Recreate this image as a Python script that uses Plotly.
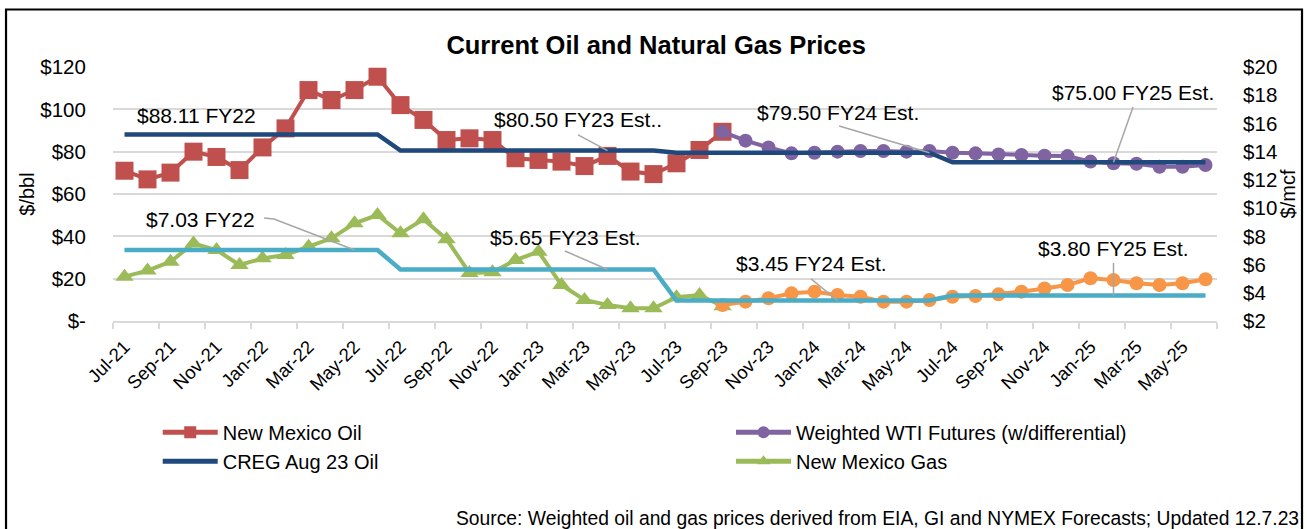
import plotly.graph_objects as go

# Monthly categories, Jul-21 through Jun-25
months = [
    "Jul-21", "Aug-21", "Sep-21", "Oct-21", "Nov-21", "Dec-21",
    "Jan-22", "Feb-22", "Mar-22", "Apr-22", "May-22", "Jun-22",
    "Jul-22", "Aug-22", "Sep-22", "Oct-22", "Nov-22", "Dec-22",
    "Jan-23", "Feb-23", "Mar-23", "Apr-23", "May-23", "Jun-23",
    "Jul-23", "Aug-23", "Sep-23", "Oct-23", "Nov-23", "Dec-23",
    "Jan-24", "Feb-24", "Mar-24", "Apr-24", "May-24", "Jun-24",
    "Jul-24", "Aug-24", "Sep-24", "Oct-24", "Nov-24", "Dec-24",
    "Jan-25", "Feb-25", "Mar-25", "Apr-25", "May-25", "Jun-25",
]

# Actual New Mexico oil price ($/bbl), Jul-21 .. Sep-23
nm_oil = [71.0, 66.9, 70.1, 80.0, 77.5, 71.3, 82.0, 91.0, 109.1, 104.4, 109.1, 115.4,
          102.0, 95.0, 85.5, 86.3, 85.5, 76.9, 76.1, 75.3, 73.2, 78.0, 70.6, 69.4,
          74.5, 80.8, 89.4]

# Weighted WTI futures with differential ($/bbl), Sep-23 .. Jun-25
wti_futures = [89.4, 85.2, 82.0, 79.2, 79.5, 80.0, 80.3, 80.3, 80.0, 80.3, 79.5,
               79.2, 78.7, 78.4, 78.1, 77.9, 75.3, 74.5, 74.3, 72.9, 72.9, 73.7]

# CREG August 2023 oil estimate by fiscal year ($/bbl), Jul-21 .. Jun-25
creg_oil = [88.11, 88.11, 88.11, 88.11, 88.11, 88.11, 88.11, 88.11, 88.11, 88.11, 88.11, 88.11,
            80.50, 80.50, 80.50, 80.50, 80.50, 80.50, 80.50, 80.50, 80.50, 80.50, 80.50, 80.50,
            79.50, 79.50, 79.50, 79.50, 79.50, 79.50, 79.50, 79.50, 79.50, 79.50, 79.50, 79.50,
            75.00, 75.00, 75.00, 75.00, 75.00, 75.00, 75.00, 75.00, 75.00, 75.00, 75.00, 75.00]

# Actual New Mexico gas price ($/mcf), Jul-21 .. Sep-23
nm_gas = [5.14, 5.57, 6.20, 7.50, 7.03, 5.97, 6.44, 6.68, 7.27, 7.86, 8.92, 9.51,
          8.21, 9.21, 7.80, 5.40, 5.45, 6.32, 6.91, 4.55, 3.49, 3.13, 2.90, 2.90,
          3.68, 3.84, 3.05]

# Gas futures ($/mcf), Sep-23 .. Jun-25
gas_futures = [3.13, 3.37, 3.61, 3.96, 4.08, 3.84, 3.72, 3.37, 3.37, 3.49, 3.72,
               3.77, 3.89, 4.08, 4.31, 4.55, 5.03, 4.91, 4.67, 4.55, 4.67, 4.96]

# CREG gas estimate by fiscal year ($/mcf), Jul-21 .. Jun-25
creg_gas = [7.03, 7.03, 7.03, 7.03, 7.03, 7.03, 7.03, 7.03, 7.03, 7.03, 7.03, 7.03,
            5.65, 5.65, 5.65, 5.65, 5.65, 5.65, 5.65, 5.65, 5.65, 5.65, 5.65, 5.65,
            3.45, 3.45, 3.45, 3.45, 3.45, 3.45, 3.45, 3.45, 3.45, 3.45, 3.45, 3.45,
            3.80, 3.80, 3.80, 3.80, 3.80, 3.80, 3.80, 3.80, 3.80, 3.80, 3.80, 3.80]

oil_ticks = [0, 20, 40, 60, 80, 100, 120]
oil_tick_text = ["$-", "$20", "$40", "$60", "$80", "$100", "$120"]
gas_ticks = [2, 4, 6, 8, 10, 12, 14, 16, 18, 20]
gas_tick_text = ["$2", "$4", "$6", "$8", "$10", "$12", "$14", "$16", "$18", "$20"]

FONT = "Liberation Sans, Arial, sans-serif"
RED, NAVY, CYAN = "#C0504D", "#1F497D", "#4BACC6"
GREEN, PURPLE, ORANGE = "#9BBB59", "#8064A2", "#F79646"
GRID = "#D9D9D9"
LEADER = "#A6A6A6"

idx = list(range(len(months)))
n_hist = len(nm_oil)
fut_start = n_hist - 1

fig = go.Figure()

fig.add_trace(go.Scatter(
    x=idx[:n_hist], y=nm_oil, name="New Mexico Oil", mode="lines+markers",
    line=dict(color=RED, width=4), marker=dict(symbol="square", size=18, color=RED),
    legend="legend", legendrank=1))
fig.add_trace(go.Scatter(
    x=idx[fut_start:fut_start + len(wti_futures)], y=wti_futures,
    name="Weighted WTI Futures (w/differential)", mode="lines+markers",
    line=dict(color=PURPLE, width=4), marker=dict(symbol="circle", size=14, color=PURPLE),
    legend="legend2", legendrank=1))
fig.add_trace(go.Scatter(
    x=idx[:n_hist], y=nm_gas, name="New Mexico Gas", mode="lines+markers", yaxis="y2",
    line=dict(color=GREEN, width=4), marker=dict(symbol="triangle-up", size=16, color=GREEN),
    legend="legend2", legendrank=2))
fig.add_trace(go.Scatter(
    x=idx[fut_start:fut_start + len(gas_futures)], y=gas_futures, name="Gas Futures",
    mode="lines+markers", yaxis="y2", showlegend=False,
    line=dict(color=ORANGE, width=4), marker=dict(symbol="circle", size=14, color=ORANGE)))
fig.add_trace(go.Scatter(
    x=idx, y=creg_oil, name="CREG Aug 23 Oil", mode="lines",
    line=dict(color=NAVY, width=4.5), legend="legend", legendrank=2))
fig.add_trace(go.Scatter(
    x=idx, y=creg_gas, name="CREG Aug 23 Gas", mode="lines", yaxis="y2", showlegend=False,
    line=dict(color=CYAN, width=4.5)))

# Fiscal-year estimate callouts: (text, text x, text y, leader path, axis)
callouts = [
    ("$88.11 FY22", 3.11, 97.3, None, "y"),
    ("$80.50 FY23 Est..", 19.72, 95.0, [(19.72, 87.9), (21, 80.5)], "y"),
    ("$79.50 FY24 Est.", 31.04, 98.7, [(31.07, 92.1), (35, 79.5)], "y"),
    ("$75.00 FY25 Est.", 43.83, 107.9, [(43.85, 101.1), (43, 75.0)], "y"),
    ("$7.03 FY22", 3.3, 9.16, [(6.07, 9.30), (6.5, 9.23), (10, 7.03)], "y2"),
    ("$5.65 FY23 Est.", 19.17, 7.95, [(19.15, 6.96), (21, 5.65)], "y2"),
    ("$3.45 FY24 Est.", 29.89, 6.11, [(29.85, 4.98), (31, 3.45)], "y2"),
    ("$3.80 FY25 Est.", 43.0, 7.17, [(43.0, 6.11), (43, 3.80)], "y2"),
]

annotations = []
shapes = []
for text, tx, ty, path, yref in callouts:
    annotations.append(dict(
        text=text, x=tx, y=ty, xref="x", yref=yref, showarrow=False,
        xanchor="center", yanchor="middle", font=dict(family=FONT, size=21, color="#000000")))
    if path:
        d = "M" + " L".join(f"{px},{py}" for px, py in path)
        shapes.append(dict(type="path", path=d, xref="x", yref=yref,
                           line=dict(color=LEADER, width=1.5), layer="above"))

annotations.append(dict(
    text="Source: Weighted oil and gas prices derived from EIA, GI and NYMEX Forecasts; Updated 12.7.23",
    xref="paper", yref="paper", x=1.0765, y=-0.779, xanchor="right", yanchor="middle",
    showarrow=False, font=dict(family=FONT, size=19.3, color="#000000")))

# Outer chart frame
shapes.append(dict(type="rect", xref="paper", yref="paper",
                   x0=-0.0969, x1=1.0770, y0=-0.85, y1=1.2264,
                   line=dict(color="#000000", width=2.2), fillcolor="rgba(0,0,0,0)",
                   layer="above"))

legend_style = dict(
    orientation="v", xanchor="left", yanchor="top", y=-0.361,
    font=dict(family=FONT, size=20, color="#000000"), itemwidth=55,
    bgcolor="rgba(0,0,0,0)", traceorder="normal", tracegroupgap=0,
    itemsizing="constant",
)

fig.update_layout(
    width=1307, height=529,
    margin=dict(l=113, r=90, t=67, b=208, autoexpand=False),
    paper_bgcolor="white", plot_bgcolor="white",
    font=dict(family=FONT, size=20, color="#000000"),
    title=dict(text="Current Oil and Natural Gas Prices", x=0.502, xanchor="center",
               y=0.915, yanchor="middle",
               font=dict(family=FONT, size=25.5, color="#000000", weight="bold")),
    xaxis=dict(
        range=[-0.5, 47.5], tickmode="array", tickvals=idx[::2], ticktext=months[::2],
        tickangle=-45, ticks="outside", ticklen=6, tickcolor="rgba(0,0,0,0)",
        tickfont=dict(family=FONT, size=18.5, color="#000000"),
        showgrid=False, zeroline=False, showline=True, linecolor=GRID, linewidth=1.5,
        minor=dict(tickmode="array", tickvals=[i - 0.5 for i in idx[::2]] + [47.5],
                   ticks="outside", ticklen=6, tickcolor=GRID, tickwidth=1.5, showgrid=False),
    ),
    yaxis=dict(
        range=[0, 120], tickmode="array", tickvals=oil_ticks, ticktext=oil_tick_text,
        ticks="outside", ticklen=22, tickcolor="rgba(0,0,0,0)",
        tickfont=dict(family=FONT, size=20.5, color="#000000"),
        showgrid=True, gridcolor=GRID, gridwidth=1.5, zeroline=False,
        title=dict(text="$/bbl", standoff=0, font=dict(family=FONT, size=20, color="#000000")),
    ),
    yaxis2=dict(
        range=[2, 20], overlaying="y", side="right", tickmode="array",
        tickvals=gas_ticks, ticktext=gas_tick_text,
        ticks="outside", ticklen=21, tickcolor="rgba(0,0,0,0)",
        tickfont=dict(family=FONT, size=20.5, color="#000000"),
        showgrid=False, zeroline=False,
        title=dict(text="$/mcf", standoff=4, font=dict(family=FONT, size=20, color="#000000")),
    ),
    legend=dict(legend_style, x=0.0405),
    legend2=dict(legend_style, x=0.5598),
    annotations=annotations,
    shapes=shapes,
)

fig.write_html("out.html")
